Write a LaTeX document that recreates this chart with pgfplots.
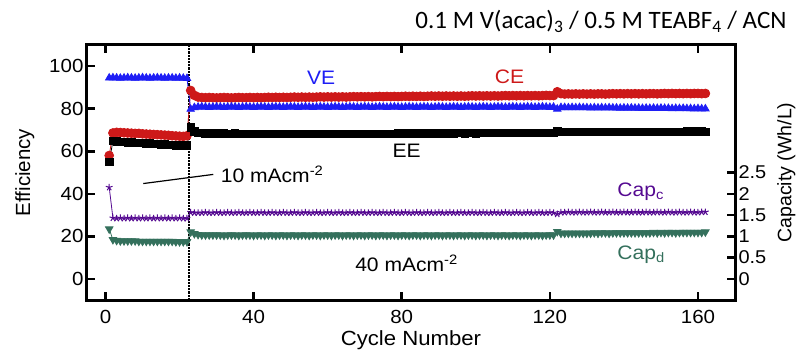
\documentclass[border=0pt]{standalone}
\usepackage{fontspec}
\setmainfont{Liberation Sans}[FakeStretch=1.08]
\newfontfamily\plainsans{Liberation Sans}
\newfontfamily\calibri{Carlito}
\usepackage{pgfplots}
\usepackage{pgfplotstable}
\pgfplotsset{compat=1.18}
\definecolor{cered}{RGB}{205,25,25}
\definecolor{veblue}{RGB}{30,30,245}
\definecolor{cappur}{RGB}{85,10,145}
\definecolor{capteal}{RGB}{52,112,92}

\pgfplotstableread{
c VE CE EE Cc Cd
1 94.5 58.0 55.0 2.15 1.17
2 94.6 68.6 64.8 1.43 0.92
3 94.5 68.9 64.6 1.42 0.90
4 94.4 68.8 64.4 1.43 0.89
5 94.5 68.7 64.3 1.42 0.89
6 94.6 68.6 64.2 1.43 0.89
7 94.5 68.5 64.1 1.42 0.89
8 94.4 68.4 64.0 1.43 0.89
9 94.5 68.4 63.9 1.42 0.88
10 94.6 68.2 63.8 1.43 0.88
11 94.5 68.1 63.7 1.42 0.88
12 94.4 68.0 63.6 1.43 0.88
13 94.5 67.9 63.5 1.42 0.88
14 94.6 67.8 63.4 1.43 0.88
15 94.5 67.7 63.3 1.42 0.88
16 94.4 67.6 63.2 1.43 0.88
17 94.5 67.5 63.1 1.42 0.88
18 94.5 67.3 63.0 1.43 0.88
19 94.4 67.2 62.8 1.42 0.87
20 94.5 67.1 62.7 1.43 0.87
21 94.4 67.0 62.6 1.42 0.87
22 94.3 67.3 62.7 1.42 0.87
23 79.8 88.6 71.2 1.56 1.10
24 80.6 86.3 69.3 1.55 1.06
25 80.8 85.5 68.6 1.55 1.04
26 80.9 85.3 68.5 1.55 1.03
27 80.8 85.2 68.4 1.56 1.03
28 80.7 85.3 68.4 1.55 1.03
29 80.8 85.2 68.3 1.55 1.03
30 80.9 85.1 68.4 1.56 1.03
31 80.8 85.2 68.3 1.55 1.03
32 80.7 85.3 68.4 1.55 1.02
33 80.8 85.2 68.3 1.56 1.03
34 80.9 85.1 68.3 1.55 1.03
35 80.8 85.2 68.4 1.55 1.03
36 80.7 85.3 68.3 1.56 1.02
37 80.8 85.2 68.3 1.55 1.03
38 80.9 85.2 68.2 1.55 1.03
39 80.8 85.3 68.3 1.56 1.03
40 80.7 85.2 68.2 1.55 1.02
41 80.8 85.3 68.3 1.55 1.03
42 80.9 85.2 68.2 1.56 1.03
43 80.8 85.3 68.3 1.55 1.02
44 80.7 85.4 68.2 1.55 1.03
45 80.8 85.3 68.2 1.56 1.03
46 80.9 85.4 68.3 1.55 1.02
47 80.8 85.3 68.2 1.55 1.03
48 80.7 85.4 68.2 1.56 1.03
49 80.8 85.3 68.1 1.55 1.02
50 80.9 85.4 68.2 1.55 1.03
51 80.8 85.5 68.2 1.56 1.03
52 80.7 85.4 68.1 1.55 1.02
53 80.8 85.5 68.2 1.55 1.03
54 80.9 85.4 68.1 1.56 1.03
55 80.8 85.5 68.2 1.55 1.02
56 80.7 85.4 68.1 1.55 1.03
57 80.8 85.5 68.2 1.56 1.03
58 80.9 85.6 68.1 1.55 1.02
59 80.8 85.5 68.2 1.55 1.03
60 80.7 85.6 68.1 1.56 1.03
61 80.8 85.5 68.2 1.55 1.02
62 80.9 85.6 68.2 1.55 1.03
63 80.8 85.5 68.1 1.56 1.03
64 80.7 85.6 68.2 1.55 1.02
65 80.8 85.5 68.2 1.55 1.03
66 80.9 85.6 68.1 1.56 1.03
67 80.8 85.7 68.2 1.55 1.02
68 80.7 85.6 68.2 1.55 1.03
69 80.8 85.7 68.2 1.56 1.03
70 80.9 85.6 68.3 1.55 1.02
71 80.8 85.7 68.2 1.55 1.03
72 80.7 85.6 68.3 1.56 1.03
73 80.8 85.7 68.2 1.55 1.02
74 80.9 85.8 68.3 1.55 1.03
75 80.8 85.7 68.3 1.56 1.03
76 80.7 85.8 68.2 1.55 1.02
77 80.8 85.7 68.3 1.55 1.03
78 80.9 85.8 68.3 1.56 1.03
79 80.8 85.7 68.4 1.55 1.02
80 80.7 85.8 68.3 1.55 1.03
81 80.8 85.9 68.4 1.56 1.03
82 80.9 85.8 68.3 1.55 1.02
83 80.8 85.9 68.4 1.55 1.03
84 80.7 85.8 68.4 1.56 1.03
85 80.8 85.9 68.3 1.55 1.02
86 80.9 85.8 68.4 1.55 1.03
87 80.8 85.9 68.4 1.56 1.03
88 80.7 86.0 68.3 1.55 1.02
89 80.8 85.9 68.4 1.55 1.03
90 80.9 86.0 68.4 1.56 1.03
91 80.8 85.9 68.5 1.55 1.02
92 80.7 86.0 68.4 1.55 1.03
93 80.8 85.9 68.5 1.56 1.03
94 80.9 86.0 68.4 1.55 1.02
95 80.8 85.9 68.5 1.55 1.03
96 80.7 86.0 68.5 1.56 1.03
97 80.8 85.9 68.4 1.55 1.02
98 80.9 86.0 68.5 1.55 1.03
99 80.8 86.1 68.5 1.56 1.03
100 80.7 86.0 68.4 1.55 1.02
101 80.8 86.1 68.5 1.55 1.03
102 80.9 86.0 68.5 1.56 1.03
103 80.8 86.1 68.6 1.55 1.02
104 80.7 86.0 68.5 1.55 1.03
105 80.8 86.1 68.6 1.56 1.03
106 80.9 86.0 68.5 1.55 1.02
107 80.8 86.1 68.6 1.55 1.03
108 80.7 86.2 68.6 1.56 1.03
109 80.8 86.1 68.5 1.55 1.02
110 80.9 86.2 68.6 1.55 1.03
111 80.8 86.1 68.6 1.56 1.03
112 80.7 86.2 68.5 1.55 1.02
113 80.8 86.1 68.6 1.55 1.03
114 80.9 86.2 68.6 1.56 1.03
115 80.8 86.1 68.7 1.55 1.02
116 80.7 86.2 68.6 1.55 1.03
117 80.8 86.1 68.7 1.56 1.03
118 80.9 86.2 68.6 1.55 1.02
119 80.8 86.3 68.7 1.55 1.03
120 80.7 86.2 68.6 1.56 1.03
121 80.8 86.2 68.7 1.55 1.03
122 79.9 88.0 69.6 1.52 1.11
123 80.6 87.1 69.1 1.56 1.07
124 80.6 86.9 69.0 1.56 1.07
125 80.5 87.0 69.1 1.57 1.07
126 80.6 86.9 69.0 1.56 1.07
127 80.5 87.0 69.1 1.56 1.07
128 80.6 86.9 69.0 1.57 1.07
129 80.5 87.0 69.1 1.56 1.07
130 80.5 86.9 69.0 1.56 1.07
131 80.4 87.0 69.1 1.57 1.07
132 80.5 86.9 69.0 1.56 1.08
133 80.4 87.0 69.1 1.56 1.07
134 80.5 87.0 69.1 1.57 1.08
135 80.4 86.9 69.0 1.56 1.08
136 80.5 87.0 69.1 1.56 1.07
137 80.4 87.1 69.1 1.57 1.08
138 80.4 87.0 69.2 1.56 1.08
139 80.3 87.1 69.1 1.56 1.08
140 80.4 87.0 69.2 1.57 1.08
141 80.3 87.1 69.1 1.56 1.08
142 80.4 87.0 69.2 1.56 1.08
143 80.3 87.1 69.1 1.57 1.08
144 80.3 87.0 69.2 1.56 1.08
145 80.2 87.1 69.2 1.56 1.08
146 80.3 87.0 69.1 1.57 1.08
147 80.2 87.1 69.2 1.56 1.08
148 80.3 87.1 69.2 1.56 1.09
149 80.2 87.0 69.1 1.57 1.08
150 80.3 87.1 69.2 1.56 1.09
151 80.2 87.2 69.2 1.56 1.08
152 80.2 87.1 69.1 1.57 1.09
153 80.1 87.2 69.2 1.56 1.09
154 80.2 87.1 69.2 1.56 1.08
155 80.1 87.2 69.2 1.57 1.09
156 80.2 87.1 69.2 1.56 1.09
157 80.1 87.2 69.3 1.56 1.09
158 80.1 87.1 69.2 1.57 1.09
159 80.0 87.2 69.3 1.56 1.09
160 80.1 87.2 69.2 1.56 1.09
161 80.0 87.1 69.3 1.57 1.09
162 80.0 87.2 69.2 1.57 1.10
}\data

\begin{document}
\begin{tikzpicture}
\begin{axis}[
  name=ax, scale only axis, width=648pt, height=255pt,
  xmin=-5, xmax=170, ymin=-10, ymax=110,
  xtick={0,40,80,120,160}, ytick={0,20,40,60,80,100},
  tick align=inside, major tick length=8pt,
  axis line style={line width=3pt},
  every tick/.style={line width=2.5pt, black},
  ytick pos=left, xtick pos=both, xticklabel pos=bottom,
  tick label style={font=\fontsize{19}{19}\selectfont},
  xticklabel style={yshift=-7pt},
  /pgf/number format/assume math mode=true,
  xlabel={Cycle Number}, ylabel={Efficiency},
  xlabel style={font=\fontsize{20.5}{20.5}\selectfont, yshift=0pt},
  ylabel style={font=\plainsans\fontsize{20.5}{20.5}\selectfont},
  ylabel shift=8pt,
  clip=false,
]
\addplot[black, densely dotted, line width=2.2pt] coordinates {(22.5,-10) (22.5,110)};
\addplot[cered, thick, mark=*, mark size=4.4pt] table[x=c, y=CE] {\data};
\addplot[veblue, thick, mark=triangle*, mark size=4.3pt] table[x=c, y=VE] {\data};
\addplot[black, thick, mark=square*, mark size=3.7pt] table[x=c, y=EE] {\data};
\draw[black, line width=1.2pt] (axis cs:10.2,44.8) -- (axis cs:29.1,49.1);
\node[anchor=base west, font=\fontsize{19.5}{19.5}\selectfont] at (axis cs:30.2,45.1) {10 mAcm\textsuperscript{-2}};
\node[anchor=base west, font=\fontsize{19.5}{19.5}\selectfont] at (axis cs:66.5,3.3) {40 mAcm\textsuperscript{-2}};
\node[anchor=base west, veblue, font=\fontsize{19.5}{19.5}\selectfont] at (axis cs:53.5,91.5) {VE};
\node[anchor=base west, cered, font=\fontsize{19.5}{19.5}\selectfont] at (axis cs:104.2,91.8) {CE};
\node[anchor=base west, black, font=\fontsize{19.5}{19.5}\selectfont] at (axis cs:76.6,56.9) {EE};
\node[anchor=base west, cappur, font=\fontsize{19.5}{19.5}\selectfont] at (axis cs:137.3,38.7) {Cap\textsubscript{c}};
\node[anchor=base west, capteal, font=\fontsize{19.5}{19.5}\selectfont] at (axis cs:137.3,9.0) {Cap\textsubscript{d}};
\end{axis}
\begin{axis}[
  scale only axis, width=648pt, height=255pt,
  xmin=-5, xmax=170, ymin=-0.5, ymax=5.5,
  axis x line=none, axis y line*=right,
  ytick={0,0.5,1,1.5,2,2.5},
  tick align=inside, major tick length=8pt,
  axis line style={line width=3pt},
  every tick/.style={line width=2.5pt, black},
  tick label style={font=\fontsize{18.5}{18.5}\selectfont},
  /pgf/number format/assume math mode=true,
  ylabel={Capacity (Wh/L)},
  ylabel style={font=\plainsans\fontsize{19.5}{19.5}\selectfont},
  ylabel shift=4pt,
  clip=false,
]
\addplot[cappur, thick, mark=star, mark size=3.5pt, mark options={line width=1pt}] table[x=c, y=Cc] {\data};
\addplot[capteal, thick, mark=triangle*, mark size=4.3pt, mark options={rotate=180}] table[x=c, y=Cd] {\data};
\end{axis}
\node[anchor=base east, font=\calibri\fontsize{25}{25}\selectfont] at (703pt,271pt) {0.1 M V(acac)\textsubscript{3} / 0.5 M TEABF\textsubscript{4} / ACN};
\pgfresetboundingbox
\path (-87pt,-51pt) rectangle (713pt,300pt);
\end{tikzpicture}
\end{document}
